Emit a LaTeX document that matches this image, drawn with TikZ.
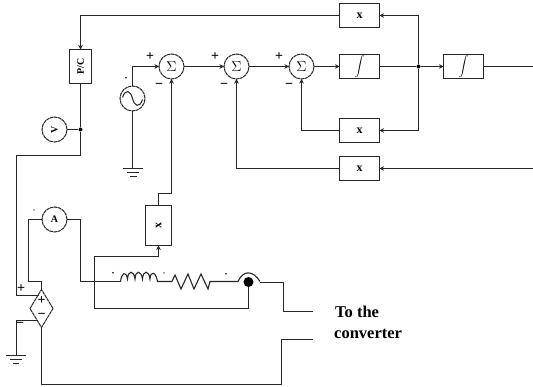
\documentclass[tikz,border=0pt]{standalone}
\usepackage{fontspec}
\setmainfont{Liberation Serif}
\usetikzlibrary{arrows.meta,shapes.geometric}
\tikzset{
  wire/.style={line width=1.1pt,draw=black!85},
  into/.style={wire,-{Stealth[length=4.5pt,width=4.5pt]}},
  blockbox/.style={draw=black!85,line width=1.1pt,rectangle,outer sep=0pt,minimum width=40pt,inner sep=0pt,font=\bfseries\fontsize{12}{12}\selectfont},
  ring/.style={draw=black!85,line width=1pt,dash pattern=on 3.5pt off 0.6pt,circle,outer sep=0pt,minimum size=25pt,inner sep=0pt,font=\fontsize{15}{15}\selectfont},
  signmark/.style={font=\bfseries\fontsize{14}{14}\selectfont,inner sep=0pt},
  tinymark/.style={font=\fontsize{7}{7}\selectfont,inner sep=0pt},
  jdot/.style={circle,fill=black,inner sep=0pt,minimum size=4pt},
  bigdot/.style={circle,fill=black,inner sep=0pt,minimum size=10pt},
  lbl/.style={font=\bfseries\fontsize{16.5}{16.5}\selectfont,inner sep=0pt,anchor=base west}
}
\begin{document}
\begin{tikzpicture}[x=1pt,y=-1pt]
\useasboundingbox (0,0) rectangle (533,387);
\fill[white] (0,0) rectangle (533,387);
% blocks
\node[blockbox,minimum height=24pt] (xtop) at (359.5,15.5) {x};
\node[blockbox,minimum height=24pt,font=\fontsize{11}{11}\selectfont] (int1) at (359.5,66.5) {$\displaystyle\int$};
\node[blockbox,minimum height=24pt,font=\fontsize{11}{11}\selectfont] (int2) at (463.5,66.5) {$\displaystyle\int$};
\node[blockbox,minimum height=24pt] (xmid) at (359.5,130.5) {x};
\node[blockbox,minimum height=24pt] (xlow) at (359.5,168.5) {x};
\node[blockbox,minimum width=26pt,minimum height=40pt] (xcur) at (158.5,225.5) {\rotatebox{90}{x}};
\node[blockbox,minimum width=22pt,minimum height=34pt,font=\bfseries\fontsize{10}{10}\selectfont] (pc) at (80.5,66.5) {\rotatebox{90}{P/C}};
\node[ring] (s1) at (171.5,66.5) {$\Sigma$};
\node[ring] (s2) at (236.5,66.5) {$\Sigma$};
\node[ring] (s3) at (301.5,66.5) {$\Sigma$};
\node[ring] (src) at (132.5,98.5) {};
\node[ring,font=\fontsize{10}{10}\selectfont\bfseries] (volt) at (54.5,129.5) {\rotatebox{90}{V}};
\node[ring,font=\fontsize{10}{10}\selectfont\bfseries] (amp) at (54.5,219.5) {A};
\node[draw=black!85,line width=1pt,dash pattern=on 3.5pt off 0.6pt,diamond,outer sep=0pt,minimum width=23pt,minimum height=38pt,inner sep=0pt,aspect=0.6] (dep) at (41.5,308.5) {};
\node[signmark] at (41.5,301) {+};
\node[signmark] at (41.5,316) {−};
\draw[line width=1pt,draw=black!85] (122.5,97.5) .. controls (125.5,88.5) and (130.5,90.5) .. (132.5,98.5) .. controls (134.5,106.5) and (139.5,108.5) .. (142.5,99.5);
% junctions
\node[jdot] (jv) at (80.5,129.5) {};
\node[jdot] (jw) at (418.5,66.5) {};
\node[bigdot] (jb) at (248.5,282) {};
% free ends and corners
\coordinate (topc) at (80.5,15.5);
\coordinate (trr) at (418.5,15.5);
\coordinate (brr) at (418.5,130.5);
\coordinate (outA) at (533,66.5);
\coordinate (outB) at (533,168.5);
\coordinate (gnda) at (132.5,168.5);
\coordinate (gndb) at (16.5,355.5);
\coordinate (depa) at (38.5,295.5);
\coordinate (depb) at (38,320.5);
% wires
\draw[into] (xtop.west) -- (topc) -- (pc.north);
\draw[into] (jw) -- (trr) -- (xtop.east);
\draw[into] (jw) -- (brr) -- (xmid.east);
\draw[into] (s1.east) -- (s2.west);
\draw[into] (s2.east) -- (s3.west);
\draw[into] (s3.east) -- (int1.west);
\draw[wire] (int1.east) -- (jw);
\draw[into] (jw) -- (int2.west);
\draw[wire] (int2.east) -- (outA);
\draw[into] (outB) -- (xlow.east);
\draw[into] (xlow.west) -| (s2.south);
\draw[into] (xmid.west) -| (s3.south);
\draw[into] (src.north) |- (s1.west);
\draw[wire] (src.south) -- (gnda);
\draw[wire] (pc.south) -- (jv);
\draw[wire] (volt.east) -- (jv);
\draw[wire] (jv) -- (80.5,155.5) -- (16.5,155.5) -- (16.5,295.5) -- (depa);
\draw[into] (xcur.north) -- (158.5,193.5) -- (171.5,193.5) -- (s1.south);
% current path
\draw[wire] (amp.west) -- (28.5,219.5) -- (28.5,281.5) -- (41.5,281.5) -- (dep.north);
\draw[wire] (amp.east) -- (80.5,219.5) -- (80.5,281.5) -- (120.5,281.5);
% inductor
\draw[wire] (120.5,281.5) .. controls (121.5,273) and (126,270) .. (127.5,279)
  .. controls (128,270) and (134,270) .. (135,279)
  .. controls (135.5,270) and (141,270) .. (142.5,279)
  .. controls (143,270) and (149,270) .. (150,279)
  .. controls (150.5,270) and (156,272) .. (157.5,281.5) -- (172,281.5);
% resistor
\draw[wire] (172,281.5) -- (175,275) -- (181,289) -- (188,274) -- (194,289) -- (201,274) -- (208,289) -- (210,281.5) -- (238,281.5);
% sensor bridge
\draw[wire] (238,281.5) .. controls (243,270) and (253,270) .. (260,281.5);
\draw[wire] (260,282.5) -- (283.5,282.5) -- (283.5,311.5) -- (313,311.5);
\draw[wire] (jb) -- (248.5,308.5) -- (94.5,308.5) -- (94.5,256.5) -- (158.5,256.5);
\draw[into] (158.5,256.5) -- (xcur.south);
% output
\draw[wire] (313,339.5) -- (281.5,339.5) -- (281.5,384.5) -- (41.5,384.5) -- (dep.south);
\draw[wire] (depb) -- (16.5,320.5) -- (gndb);
% grounds
\draw[wire] (123,168.5) -- (143,168.5) (127,172.5) -- (139,172.5) (129.5,176.5) -- (136.5,176.5);
\draw[wire] (6,355.5) -- (26,355.5) (10,359.5) -- (22,359.5) (13,363.5) -- (19,363.5);
% labels
\node[signmark] at (150,57) {+};
\node[signmark] at (159,86) {−};
\node[signmark] at (215,57) {+};
\node[signmark] at (224,86) {−};
\node[signmark] at (279,57) {+};
\node[signmark] at (289,86) {−};
\node[signmark] at (21,289) {+};
\node[signmark] at (20,325) {−};
\node[tinymark] at (126,79) {\textbullet};
\node[tinymark] at (34,211) {◦};
\node[tinymark] at (113,274) {\textbullet};
\node[tinymark] at (164,274) {◦};
\node[tinymark] at (226,275) {\textbullet};
\node[lbl] at (335,318) {To the};
\node[lbl] at (334,339) {converter};
\end{tikzpicture}
\end{document}
